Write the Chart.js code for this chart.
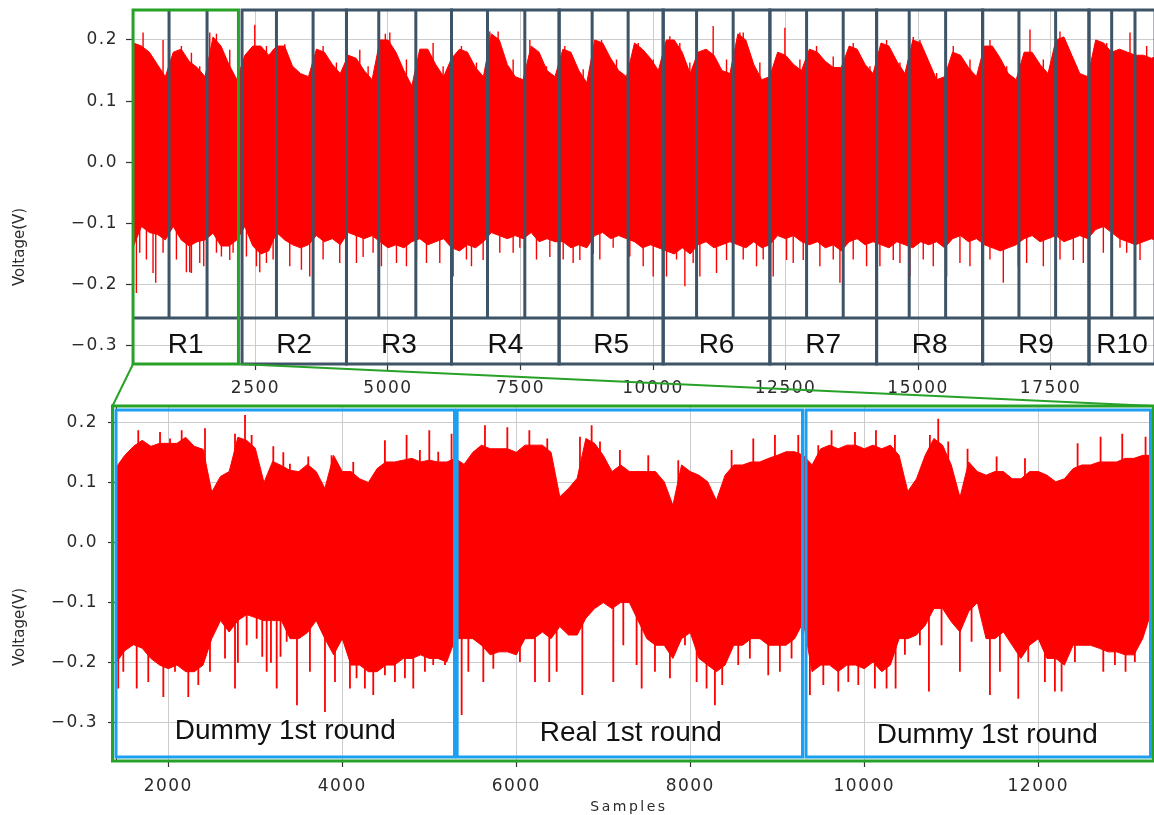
<!DOCTYPE html>
<html>
<head>
<meta charset="utf-8">
<script src="https://cdn.jsdelivr.net/npm/chart.js@4.4.1/dist/chart.umd.min.js"></script>
<style>
  html, body { margin: 0; padding: 0; background: #fff; overflow: hidden; }
  #wrap { position: relative; width: 1154px; height: 815px; overflow: hidden; background: #fff; }
  #wrap canvas { position: absolute; left: 0; }
  #topChart { top: 0; }
  #bottomChart { top: 395px; }
  #overlay { top: 0; pointer-events: none; }
</style>
</head>
<body>
<div id="wrap">
  <canvas id="topChart" width="1160" height="410"></canvas>
  <canvas id="bottomChart" width="1160" height="420"></canvas>
  <canvas id="overlay" width="1154" height="815"></canvas>
</div>
<script>
// ======================================================
// DATA
// ======================================================

// whole trace: envelope every 150 samples, starting at sample 200
const TOP_START = 200;
const TOP_STEP = 150;
const TOP_HI = [
  0.195, 0.19, 0.18, 0.16, 0.14, 0.18, 0.185, 0.165, 0.155, 0.14,
  0.205, 0.19, 0.16, 0.135, 0.175, 0.19, 0.19, 0.175, 0.19, 0.19,
  0.157, 0.145, 0.14, 0.185, 0.18, 0.16, 0.145, 0.175, 0.17, 0.15,
  0.135, 0.2, 0.2, 0.18, 0.15, 0.125, 0.185, 0.185, 0.16, 0.14,
  0.17, 0.185, 0.18, 0.155, 0.14, 0.21, 0.2, 0.16, 0.14, 0.135,
  0.19, 0.18, 0.15, 0.14, 0.185, 0.18, 0.15, 0.13, 0.2, 0.195,
  0.17, 0.15, 0.14, 0.195, 0.185, 0.17, 0.15, 0.2, 0.2, 0.18,
  0.145, 0.18, 0.185, 0.175, 0.15, 0.145, 0.21, 0.2, 0.16, 0.135,
  0.14, 0.18, 0.175, 0.16, 0.15, 0.185, 0.18, 0.165, 0.155, 0.155,
  0.19, 0.185, 0.16, 0.145, 0.195, 0.19, 0.165, 0.145, 0.2, 0.195,
  0.165, 0.135, 0.14, 0.18, 0.175, 0.155, 0.14, 0.19, 0.19, 0.17,
  0.145, 0.135, 0.18, 0.18, 0.16, 0.145, 0.2, 0.205, 0.175, 0.145,
  0.14, 0.2, 0.195, 0.18, 0.185, 0.18, 0.175, 0.175, 0.17, 0.175
];
const TOP_LO = [
  -0.137, -0.105, -0.115, -0.118, -0.127, -0.105, -0.127, -0.137, -0.13, -0.127,
  -0.116, -0.137, -0.137, -0.127, -0.105, -0.137, -0.15, -0.145, -0.115, -0.127,
  -0.135, -0.14, -0.135, -0.12, -0.13, -0.125, -0.135, -0.115, -0.12, -0.125,
  -0.12, -0.13, -0.14, -0.135, -0.14, -0.13, -0.125, -0.135, -0.13, -0.125,
  -0.14, -0.145, -0.135, -0.14, -0.13, -0.115, -0.12, -0.125, -0.12, -0.125,
  -0.115, -0.13, -0.125, -0.13, -0.13, -0.14, -0.135, -0.14, -0.12, -0.115,
  -0.125, -0.12, -0.125, -0.13, -0.14, -0.135, -0.14, -0.145, -0.15, -0.14,
  -0.15, -0.135, -0.13, -0.14, -0.135, -0.13, -0.135, -0.14, -0.13, -0.14,
  -0.135, -0.12, -0.125, -0.12, -0.13, -0.135, -0.13, -0.14, -0.135, -0.145,
  -0.13, -0.125, -0.135, -0.13, -0.135, -0.14, -0.13, -0.135, -0.14, -0.13,
  -0.135, -0.13, -0.14, -0.125, -0.12, -0.13, -0.125, -0.135, -0.14, -0.145,
  -0.14, -0.135, -0.125, -0.12, -0.13, -0.125, -0.12, -0.13, -0.125, -0.12,
  -0.125, -0.11, -0.105, -0.115, -0.125, -0.13, -0.135, -0.13, -0.125, -0.13
];
// [sample, tip voltage]
const TOP_UP_SPIKES = [
  [380, 0.212], [757, 0.2], [1103, 0.19], [1292, 0.179], [1449, 0.157],
  [1638, 0.212], [1764, 0.21], [2015, 0.184], [2330, 0.173], [2487, 0.225],
  [2707, 0.19], [2833, 0.184], [3052, 0.193], [3776, 0.19], [4027, 0.163],
  [4468, 0.184], [4625, 0.157], [4950, 0.21], [5034, 0.212], [5348, 0.168],
  [5851, 0.195], [6040, 0.157], [6386, 0.19], [6669, 0.163], [6921, 0.214],
  [7078, 0.214], [7361, 0.168], [7676, 0.2], [7990, 0.157], [8336, 0.19],
  [8682, 0.152], [9028, 0.2], [9311, 0.168], [9720, 0.195], [10003, 0.168],
  [10317, 0.206], [10505, 0.195], [10694, 0.163], [11134, 0.223], [11386, 0.168],
  [11638, 0.212], [11701, 0.212], [12015, 0.163], [12487, 0.22], [12770, 0.168],
  [13084, 0.19], [13399, 0.173], [13776, 0.195], [14091, 0.157], [14405, 0.2],
  [14657, 0.163], [14908, 0.205], [15034, 0.2], [15349, 0.146], [15663, 0.19],
  [15978, 0.168], [16355, 0.2], [16670, 0.157], [17110, 0.217], [17362, 0.168],
  [17676, 0.214], [17990, 0.157], [18368, 0.2], [18557, 0.195], [18997, 0.212],
  [19311, 0.19]
];
const TOP_DOWN_SPIKES = [
  [254, -0.214], [317, -0.148], [443, -0.159], [568, -0.181], [619, -0.197],
  [757, -0.148], [1009, -0.159], [1197, -0.18], [1260, -0.18], [1292, -0.181],
  [1449, -0.165], [1524, -0.17], [1764, -0.148], [1858, -0.154], [2015, -0.16],
  [2078, -0.148], [2330, -0.154], [2518, -0.17], [2581, -0.18], [2707, -0.165],
  [2833, -0.159], [3147, -0.17], [3367, -0.176], [3524, -0.187], [3776, -0.159],
  [4090, -0.165], [4405, -0.165], [4531, -0.155], [4719, -0.148], [4876, -0.17],
  [5160, -0.165], [5348, -0.17], [5537, -0.16], [5726, -0.165], [5977, -0.165],
  [6229, -0.187], [6480, -0.159], [6575, -0.17], [6795, -0.16], [7109, -0.148],
  [7361, -0.148], [7487, -0.14], [7801, -0.159], [8053, -0.155], [8305, -0.159],
  [8493, -0.165], [8619, -0.16], [8871, -0.15], [8996, -0.159], [9248, -0.14],
  [9562, -0.154], [9814, -0.17], [10003, -0.187], [10254, -0.187], [10443, -0.159],
  [10600, -0.203], [10757, -0.165], [10883, -0.187], [11197, -0.181], [11386, -0.16],
  [11701, -0.159], [11952, -0.17], [12078, -0.159], [12267, -0.187], [12518, -0.16],
  [12644, -0.165], [12833, -0.16], [13147, -0.17], [13399, -0.159], [13525, -0.197],
  [13776, -0.159], [14028, -0.17], [14279, -0.17], [14531, -0.16], [14657, -0.165],
  [14846, -0.187], [15097, -0.159], [15286, -0.17], [15537, -0.187], [15789, -0.165],
  [15978, -0.17], [16355, -0.159], [16607, -0.197], [16890, -0.17], [17047, -0.165],
  [17362, -0.17], [17676, -0.159], [17928, -0.16], [18116, -0.165], [18494, -0.148],
  [18808, -0.14], [18934, -0.148], [19186, -0.16]
];

// zoomed trace: envelope every 100 samples, starting at sample 1400
const BOT_START = 1400;
const BOT_STEP = 100;
const BOT_HI = [
  0.125, 0.145, 0.16, 0.17, 0.16, 0.165, 0.165, 0.165, 0.175, 0.16,
  0.155, 0.084, 0.11, 0.118, 0.175, 0.17, 0.157, 0.10, 0.135, 0.128,
  0.12, 0.118, 0.13, 0.118, 0.09, 0.145, 0.118, 0.118, 0.106, 0.10,
  0.123, 0.134, 0.134, 0.137, 0.14, 0.134, 0.137, 0.134, 0.134, 0.14,
  0.13, 0.15, 0.162, 0.156, 0.156, 0.156, 0.15, 0.162, 0.162, 0.162,
  0.15, 0.076, 0.09, 0.107, 0.173, 0.165, 0.145, 0.118, 0.129, 0.118,
  0.118, 0.118, 0.118, 0.101, 0.062, 0.129, 0.118, 0.112, 0.101, 0.07,
  0.112, 0.129, 0.129, 0.134, 0.134, 0.14, 0.145, 0.151, 0.151, 0.145,
  0.129, 0.156, 0.162, 0.156, 0.162, 0.162, 0.156, 0.162, 0.156, 0.162,
  0.145, 0.085, 0.106, 0.145, 0.173, 0.162, 0.129, 0.075, 0.134, 0.118,
  0.112, 0.118, 0.118, 0.106, 0.106, 0.118, 0.118, 0.112, 0.101, 0.106,
  0.123, 0.129, 0.129, 0.134, 0.134, 0.134, 0.14, 0.14, 0.145, 0.145
];
const BOT_LO = [
  -0.20, -0.18, -0.17, -0.176, -0.193, -0.204, -0.21, -0.204, -0.215, -0.215,
  -0.204, -0.16, -0.13, -0.149, -0.13, -0.12, -0.125, -0.13, -0.13, -0.13,
  -0.16, -0.16, -0.15, -0.13, -0.16, -0.187, -0.16, -0.204, -0.204, -0.215,
  -0.215, -0.204, -0.204, -0.193, -0.193, -0.187, -0.193, -0.193, -0.199, -0.16,
  -0.16, -0.16, -0.171, -0.187, -0.182, -0.182, -0.187, -0.16, -0.16, -0.149,
  -0.16, -0.14, -0.154, -0.154, -0.126, -0.11, -0.10, -0.11, -0.10, -0.10,
  -0.13, -0.16, -0.171, -0.171, -0.193, -0.16, -0.15, -0.193, -0.204, -0.215,
  -0.204, -0.171, -0.171, -0.16, -0.16, -0.171, -0.171, -0.171, -0.16, -0.132,
  -0.215, -0.204, -0.204, -0.215, -0.204, -0.204, -0.21, -0.199, -0.215, -0.204,
  -0.16, -0.16, -0.154, -0.138, -0.11, -0.11, -0.132, -0.149, -0.115, -0.10,
  -0.16, -0.16, -0.149, -0.171, -0.193, -0.171, -0.16, -0.193, -0.193, -0.204,
  -0.171, -0.171, -0.171, -0.176, -0.182, -0.182, -0.187, -0.187, -0.16, -0.115
];
const BOT_UP_SPIKES = [
  [1655, 0.187], [1905, 0.184], [2020, 0.173], [2154, 0.187], [2422, 0.19],
  [2767, 0.181], [2882, 0.212], [2958, 0.179], [3207, 0.16], [3322, 0.15],
  [3398, 0.131], [3609, 0.143], [3877, 0.145], [4126, 0.134], [4490, 0.17],
  [4739, 0.179], [4892, 0.154], [5000, 0.187], [5103, 0.151], [5256, 0.181],
  [5640, 0.195], [5897, 0.192], [6150, 0.187], [6356, 0.173], [6732, 0.176],
  [6866, 0.195], [6962, 0.168], [7191, 0.154], [7517, 0.145], [7862, 0.137],
  [8475, 0.154], [8724, 0.173], [8973, 0.179], [9241, 0.179], [9471, 0.162],
  [9624, 0.187], [9893, 0.184], [10134, 0.187], [10352, 0.179], [10754, 0.179],
  [10850, 0.206], [10965, 0.168], [11187, 0.156], [11521, 0.143], [11847, 0.14],
  [12452, 0.165], [12716, 0.176], [12965, 0.181], [13233, 0.176]
];
const BOT_DOWN_SPIKES = [
  [1425, -0.243], [1483, -0.215], [1637, -0.243], [1770, -0.232], [1943, -0.257],
  [2077, -0.215], [2230, -0.257], [2345, -0.237], [2479, -0.215], [2652, -0.193],
  [2767, -0.243], [2800, -0.2], [2901, -0.171], [3016, -0.16], [3080, -0.19],
  [3131, -0.215], [3180, -0.2], [3246, -0.243], [3290, -0.19], [3361, -0.165],
  [3479, -0.271], [3628, -0.215], [3801, -0.282], [3916, -0.232], [4088, -0.243],
  [4164, -0.226], [4260, -0.243], [4356, -0.254], [4490, -0.221], [4605, -0.232],
  [4720, -0.226], [4816, -0.243], [4950, -0.215], [5045, -0.204], [5180, -0.204],
  [5372, -0.287], [5449, -0.215], [5621, -0.232], [5736, -0.21], [6042, -0.199],
  [6215, -0.232], [6379, -0.232], [6464, -0.215], [6759, -0.254], [7115, -0.232],
  [7230, -0.171], [7383, -0.204], [7441, -0.243], [7594, -0.215], [7766, -0.226],
  [7939, -0.171], [8073, -0.232], [8187, -0.243], [8283, -0.271], [8367, -0.237],
  [8551, -0.204], [8685, -0.193], [8896, -0.221], [9030, -0.215], [9164, -0.193],
  [9375, -0.254], [9529, -0.237], [9701, -0.248], [9816, -0.232], [9931, -0.237],
  [10122, -0.243], [10256, -0.243], [10360, -0.243], [10467, -0.187], [10639, -0.171],
  [10743, -0.248], [10888, -0.171], [11099, -0.215], [11233, -0.165], [11444, -0.254],
  [11559, -0.215], [11770, -0.26], [11885, -0.199], [12076, -0.232], [12191, -0.248],
  [12268, -0.248], [12421, -0.199], [12747, -0.215], [12881, -0.204], [13003, -0.215],
  [13110, -0.199]
];

// ticks
const TOP_X_TICKS = [2500, 5000, 7500, 10000, 12500, 15000, 17500];
const BOT_X_TICKS = [2000, 4000, 6000, 8000, 10000, 12000];
const Y_TICKS = [-0.3, -0.2, -0.1, 0, 0.1, 0.2];

// rounds marked on the whole trace (sample ranges)
const ROUND_NAMES = ["R1", "R2", "R3", "R4", "R5", "R6", "R7", "R8", "R9", "R10"];
const ROUND_SPANS = [
  [191, 2179], [2247, 4217], [4217, 6198], [6198, 8228], [8228, 10191],
  [10191, 12204], [12204, 14217], [14217, 16217], [16217, 18223], [18223, 19470]
];
const SUBROUND_LINES = [
  870, 1587, 2896, 3587, 4826, 5525, 6877, 7581, 8851, 9530,
  10821, 11511, 12896, 13587, 14832, 15519, 16902, 17594, 18651, 19091
];

// segments marked on the zoomed trace
const SEGMENT_NAMES = ["Dummy 1st round", "Real 1st round", "Dummy 1st round"];
const SEGMENT_SPANS = [[1399, 5290], [5320, 9290], [9330, 13290]];

// ======================================================
// STYLE
// ======================================================

const RED = "#ff0000";
const SLATE = "#3d5366";
const GREEN = "#27a127";
const BLUE = "#1c9ff0";
const TEXT = "#2b2b2b";
const GRID = "#cccccc";
const LABEL_ROW_H = 46;
const BOTTOM_TOP = 395; // css top of the lower canvas

Chart.defaults.font.family = "'DejaVu Sans', sans-serif";
Chart.defaults.color = TEXT;

// ======================================================
// HELPERS
// ======================================================

function envelope(start, step, values) {
  return values.map((v, i) => ({ x: start + i * step, y: v }));
}

function spikes(list) {
  const pts = [];
  list.forEach(([s, tip]) => {
    pts.push({ x: s, y: 0 }, { x: s, y: tip }, { x: s, y: null });
  });
  return pts;
}

function traceDatasets(start, step, hi, lo, up, down, spikeWidth) {
  const base = { borderColor: RED, backgroundColor: RED, pointRadius: 0, pointHitRadius: 0 };
  return [
    { ...base, data: envelope(start, step, hi), borderWidth: 1, fill: "+1" },
    { ...base, data: envelope(start, step, lo), borderWidth: 1, fill: false },
    { ...base, data: spikes(up), borderWidth: spikeWidth, fill: false, spanGaps: false },
    { ...base, data: spikes(down), borderWidth: spikeWidth, fill: false, spanGaps: false },
  ];
}

function fmtY(v) {
  return v.toFixed(1).replace("-", "\u2212");
}

function line(ctx, x0, y0, x1, y1) {
  ctx.beginPath();
  ctx.moveTo(x0, y0);
  ctx.lineTo(x1, y1);
  ctx.stroke();
}

function vTitle(ctx, text, x, y) {
  ctx.save();
  ctx.letterSpacing = "0px";
  ctx.translate(x, y);
  ctx.rotate(-Math.PI / 2);
  ctx.font = "15px 'DejaVu Sans'";
  ctx.fillStyle = TEXT;
  ctx.textAlign = "center";
  ctx.textBaseline = "middle";
  ctx.fillText(text, 0, 0);
  ctx.restore();
}

// matplotlib output in the picture is stretched sideways, widen tick text a bit
const spacingPlugin = {
  id: "spacing",
  beforeDraw(chart) {
    chart.ctx.letterSpacing = "1.5px";
  },
};

function axisOptions(ticksList, min, max, opts) {
  return {
    type: "linear",
    min,
    max,
    afterBuildTicks: (scale) => {
      scale.ticks = ticksList.map((v) => ({ value: v }));
    },
    afterFit: (scale) => {
      opts.fit(scale);
      // no extra room for overhanging labels, the plot area is fixed
      scale.paddingTop = 0;
      scale.paddingBottom = 0;
      scale.paddingLeft = 0;
      scale.paddingRight = 0;
    },
    ticks: {
      autoSkip: false,
      maxRotation: 0,
      padding: opts.padding,
      font: { size: 17 },
      color: TEXT,
      callback: opts.format,
    },
    grid: {
      color: GRID,
      lineWidth: 1,
      tickColor: "#333",
      tickLength: opts.tick,
      tickWidth: 1.2,
    },
    border: { display: true, color: "#333", width: 1 },
  };
}

// ======================================================
// TOP CHART (whole trace with rounds)
// ======================================================

const topBoxes = {
  id: "topBoxes",
  afterDraw(chart) {
    const { ctx, chartArea: a, scales } = chart;
    const px = (s) => scales.x.getPixelForValue(s);
    const rowTop = a.bottom - LABEL_ROW_H;

    ctx.save();
    ctx.letterSpacing = "0px";
    ctx.lineWidth = 3;
    ctx.strokeStyle = SLATE;

    SUBROUND_LINES.forEach((s) => line(ctx, px(s), a.top, px(s), rowTop));
    line(ctx, px(ROUND_SPANS[0][0]), rowTop, px(ROUND_SPANS[9][1]) + 10, rowTop);
    ROUND_SPANS.slice(1).forEach(([s0, s1]) => {
      ctx.strokeRect(px(s0), a.top, px(s1) - px(s0), a.bottom - a.top);
    });

    ctx.strokeStyle = GREEN;
    const [g0, g1] = ROUND_SPANS[0];
    ctx.strokeRect(px(g0), a.top, px(g1) - px(g0), a.bottom - a.top);

    ctx.font = "28px 'Liberation Sans', Arial, sans-serif";
    ctx.fillStyle = "#111";
    ctx.textAlign = "center";
    ctx.textBaseline = "alphabetic";
    ROUND_NAMES.forEach((name, i) => {
      const [s0, s1] = ROUND_SPANS[i];
      ctx.fillText(name, (px(s0) + px(s1)) / 2, a.bottom - 11);
    });

    vTitle(ctx, "Voltage(V)", 20, 247);
    ctx.restore();
  },
};

const topChart = new Chart(document.getElementById("topChart"), {
  type: "line",
  data: {
    datasets: traceDatasets(TOP_START, TOP_STEP, TOP_HI, TOP_LO, TOP_UP_SPIKES, TOP_DOWN_SPIKES, 1.4),
  },
  options: {
    responsive: false,
    animation: false,
    devicePixelRatio: 1,
    layout: { padding: { top: 10, right: 2, bottom: 0, left: 0 } },
    plugins: { legend: { display: false }, tooltip: { enabled: false } },
    scales: {
      x: axisOptions(TOP_X_TICKS, 190, 19525, {
        fit: (s) => { s.height = 46; },
        padding: 8,
        tick: 6,
        format: (v) => String(v),
      }),
      y: axisOptions(Y_TICKS, -0.33, 0.249, {
        fit: (s) => { s.width = 133; },
        padding: 8,
        tick: 7,
        format: fmtY,
      }),
    },
  },
  plugins: [spacingPlugin, topBoxes],
});

// ======================================================
// BOTTOM CHART (zoom on R1)
// ======================================================

const bottomBoxes = {
  id: "bottomBoxes",
  afterDraw(chart) {
    const { ctx, chartArea: a, scales } = chart;
    const px = (s) => scales.x.getPixelForValue(s);

    ctx.save();
    ctx.letterSpacing = "0px";
    ctx.lineWidth = 3;
    ctx.strokeStyle = BLUE;
    SEGMENT_SPANS.forEach(([s0, s1]) => {
      ctx.strokeRect(px(s0), a.top + 3, px(s1) - px(s0), a.bottom - a.top - 6);
    });

    ctx.strokeStyle = GREEN;
    ctx.strokeRect(a.left - 3.5, a.top - 1, a.right - a.left + 5, a.bottom - a.top + 2);

    ctx.font = "28px 'Liberation Sans', Arial, sans-serif";
    ctx.fillStyle = "#111";
    ctx.textAlign = "center";
    ctx.textBaseline = "alphabetic";
    const nudge = [0, 1, 9];
    SEGMENT_NAMES.forEach((name, i) => {
      const [s0, s1] = SEGMENT_SPANS[i];
      ctx.fillText(name, (px(s0) + px(s1)) / 2 + nudge[i], a.bottom - 21 + i * 2);
    });

    vTitle(ctx, "Voltage(V)", 20, 627 - BOTTOM_TOP);

    ctx.font = "14px 'DejaVu Sans'";
    ctx.letterSpacing = "2.5px";
    ctx.fillStyle = TEXT;
    ctx.textBaseline = "middle";
    ctx.fillText("Samples", 629, 807 - BOTTOM_TOP);
    ctx.restore();
  },
};

const bottomChart = new Chart(document.getElementById("bottomChart"), {
  type: "line",
  data: {
    datasets: traceDatasets(BOT_START, BOT_STEP, BOT_HI, BOT_LO, BOT_UP_SPIKES, BOT_DOWN_SPIKES, 1.8),
  },
  options: {
    responsive: false,
    animation: false,
    devicePixelRatio: 1,
    layout: { padding: { top: 12, right: 8, bottom: 0, left: 0 } },
    plugins: { legend: { display: false }, tooltip: { enabled: false } },
    scales: {
      x: axisOptions(BOT_X_TICKS, 1399, 13307, {
        fit: (s) => { s.height = 55; },
        padding: 9,
        tick: 7,
        format: (v) => String(v),
      }),
      y: axisOptions(Y_TICKS, -0.362, 0.2255, {
        fit: (s) => { s.width = 116; },
        padding: 10,
        tick: 8,
        format: fmtY,
      }),
    },
  },
  plugins: [spacingPlugin, bottomBoxes],
});

// ======================================================
// ZOOM LINES (R1 box -> lower panel)
// ======================================================

function drawZoomLines() {
  const ctx = document.getElementById("overlay").getContext("2d");
  const ta = topChart.chartArea;
  const tx = topChart.scales.x;
  const ba = bottomChart.chartArea;
  const [r0, r1] = ROUND_SPANS[0];

  ctx.strokeStyle = GREEN;
  ctx.lineWidth = 2;
  line(ctx, tx.getPixelForValue(r0), ta.bottom, ba.left - 3.5, ba.top - 1 + BOTTOM_TOP);
  line(ctx, tx.getPixelForValue(r1), ta.bottom, ba.right + 1.5, ba.top - 1 + BOTTOM_TOP);
}

drawZoomLines();
</script>
</body>
</html>
